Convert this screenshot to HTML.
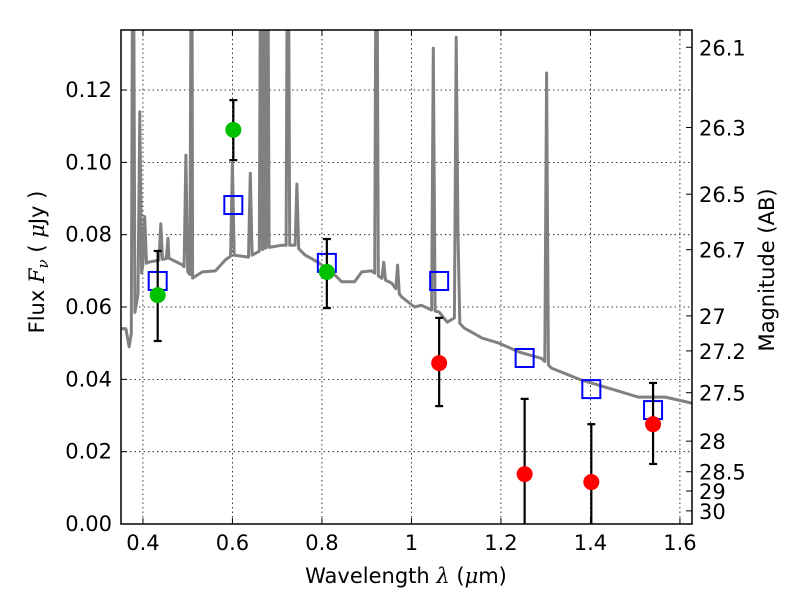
<!DOCTYPE html>
<html><head><meta charset="utf-8"><style>
body{margin:0;background:#fff}
svg{display:block;font-family:"DejaVu Sans","Liberation Sans",sans-serif}
</style></head><body>
<svg id="chart" width="800" height="600" viewBox="0 0 800 600" xmlns="http://www.w3.org/2000/svg">
<rect width="800" height="600" fill="#fff"/>
<g id="grid"></g>
<g id="plot"></g>
<g id="axes"></g>
<text x="406" y="583" font-size="21" text-anchor="middle">Wavelength  <tspan font-style="italic" font-family="DejaVu Serif,serif">λ</tspan> (<tspan font-style="italic" font-family="DejaVu Serif,serif">μ</tspan>m)</text>
<text transform="translate(44,262) rotate(-90)" font-size="21" text-anchor="middle">Flux  <tspan font-style="italic" font-family="DejaVu Serif,serif">F<tspan font-size="15" dy="4">ν</tspan></tspan><tspan dy="-4">  (  </tspan><tspan font-style="italic" font-family="DejaVu Serif,serif">μ</tspan>Jy )</text>
<text transform="translate(774,270) rotate(-90)" font-size="21" text-anchor="middle">Magnitude (AB)</text>
</svg>
<script>
const xTicks=[0.4,0.6,0.8,1.0,1.2,1.4,1.6];
const xTickLabels=["0.4","0.6","0.8","1","1.2","1.4","1.6"];
const yTicks=[0,0.02,0.04,0.06,0.08,0.10,0.12];
const yTickLabels=["0.00","0.02","0.04","0.06","0.08","0.10","0.12"];
const magTicks=[26.1,26.3,26.5,26.7,27,27.2,27.5,28,28.5,29,30];
const magTickLabels=["26.1","26.3","26.5","26.7","27","27.2","27.5","28","28.5","29","30"];
const contLam=[0.351,0.362,0.369,0.4,0.413,0.458,0.489,0.511,0.533,0.562,0.584,0.6,0.636,0.673,0.711,0.74,0.762,0.791,0.822,0.844,0.873,0.889,0.911,0.933,0.956,0.978,1.007,1.022,1.044,1.062,1.08,1.096,1.118,1.158,1.196,1.24,1.291,1.313,1.38,1.456,1.507,1.567,1.627];
const contFlux=[0.054,0.054,0.049,0.0716,0.0724,0.0735,0.0716,0.068,0.0697,0.070,0.073,0.0744,0.0738,0.0763,0.0771,0.0771,0.0744,0.0724,0.0697,0.067,0.067,0.0697,0.070,0.068,0.0666,0.0628,0.060,0.0605,0.0592,0.0586,0.0558,0.057,0.0542,0.0514,0.050,0.0476,0.0458,0.0431,0.0398,0.037,0.0351,0.0351,0.0334];
const lineLam=[0.378,0.393,0.404,0.44,0.456,0.496,0.509,0.6,0.64,0.664,0.671,0.678,0.724,0.744,0.922,0.938,0.969,1.049,1.100,1.104,1.302];
const linePeak=[0.2,0.114,0.085,0.083,0.079,0.102,0.2,0.0998,0.097,0.2,0.2,0.2,0.2,0.094,0.2,0.0724,0.0716,0.1316,0.1346,0.08,0.1247];
const photLam=[0.433,0.602,0.811];
const photFlux=[0.0633,0.109,0.0697];
const photErrHi=[0.0755,0.1172,0.0788];
const photErrLo=[0.0506,0.1006,0.0597];
const redLam=[1.062,1.253,1.402,1.54];
const redFlux=[0.0445,0.0138,0.0116,0.0276];
const redErrHi=[0.057,0.0346,0.0276,0.039];
const redErrLo=[0.0326,0,0,0.0166];
const modelLam=[0.433,0.602,0.811,1.062,1.253,1.402,1.54];
const modelFlux=[0.0672,0.0882,0.0722,0.0672,0.0459,0.0373,0.0315];

const L=121,R=692,T=30,B=524,xmin=0.351,xmax=1.627,ymax=0.1366;
const X=v=>L+(v-xmin)/(xmax-xmin)*(R-L);
const Y=v=>B-v/ymax*(B-T);
const magToFlux=m=>Math.pow(10,(23.9-m)/2.5);
const NS="http://www.w3.org/2000/svg";
function mk(tag,parent,attrs){const e=document.createElementNS(NS,tag);for(const k in attrs)e.setAttribute(k,attrs[k]);parent.appendChild(e);return e;}
const grid=document.getElementById('grid'),plot=document.getElementById('plot'),axes=document.getElementById('axes');

xTicks.forEach((t,i)=>{const x=X(t);
 let g=mk('line',grid,{x1:x,x2:x,y1:T,y2:B,stroke:'#000','stroke-width':0.8,'stroke-dasharray':'1.5,3'});
 
 mk('line',axes,{x1:x,x2:x,y1:B,y2:B-6,stroke:'#000'});
 mk('line',axes,{x1:x,x2:x,y1:T,y2:T+6,stroke:'#000'});
 let tx=mk('text',axes,{x:x,y:B+26,'font-size':21,'text-anchor':'middle'});tx.textContent=xTickLabels[i];
 
});
yTicks.forEach((t,i)=>{const y=Y(t);
 if(t>0){let g=mk('line',grid,{x1:L,x2:R,y1:y,y2:y,stroke:'#000','stroke-width':0.8,'stroke-dasharray':'1.5,3'});
 }
 mk('line',axes,{x1:L,x2:L+6,y1:y,y2:y,stroke:'#000'});
 let tx=mk('text',axes,{x:L-9,y:y+7,'font-size':21,'text-anchor':'end'});tx.textContent=yTickLabels[i];
 
});
magTicks.forEach((m,i)=>{const y=Y(magToFlux(m));
 mk('line',axes,{x1:R,x2:R-6,y1:y,y2:y,stroke:'#000'});
 let tx=mk('text',axes,{x:R+7,y:y+8,'font-size':21});tx.textContent=magTickLabels[i];
 
});

function cont(l){for(let i=0;i<contLam.length-1;i++){if(l<=contLam[i+1]){const f=(l-contLam[i])/(contLam[i+1]-contLam[i]);return contFlux[i]+f*(contFlux[i+1]-contFlux[i]);}}return contFlux[contFlux.length-1];}
let pts=[];let samp=contLam.slice();
lineLam.forEach(l=>{samp.push(l-0.004,l,l+0.004);});
samp.sort((a,b)=>a-b);
samp.forEach(l=>{let f=cont(l);lineLam.forEach((c,j)=>{if(Math.abs(l-c)<1e-6)f=Math.max(f,linePeak[j]);});pts.push(X(l).toFixed(1)+','+Y(f).toFixed(1));});
const cp=document.createElementNS(NS,'clipPath');cp.id='clip';mk('rect',cp,{x:L,y:T,width:R-L,height:B-T});plot.appendChild(cp);
let sp=mk('polyline',plot,{points:pts.join(' '),fill:'none',stroke:'#808080','stroke-width':3,'clip-path':'url(#clip)','stroke-linejoin':'round'});


function errbar(lam,hi,lo){const x=X(lam);const g=mk('g',plot,{stroke:'#000','stroke-width':2.2});
 
 mk('line',g,{x1:x,x2:x,y1:Y(hi),y2:Y(lo)});mk('line',g,{x1:x-4,x2:x+4,y1:Y(hi),y2:Y(hi)});
 if(lo>0)mk('line',g,{x1:x-4,x2:x+4,y1:Y(lo),y2:Y(lo)});}
modelLam.forEach((l,i)=>{let r=mk('rect',plot,{x:X(l)-9,y:Y(modelFlux[i])-9,width:18,height:18,fill:'none',stroke:'#0000ff','stroke-width':2});
 });
photLam.forEach((l,i)=>{errbar(l,photErrHi[i],photErrLo[i]);
 let c=mk('circle',plot,{cx:X(l),cy:Y(photFlux[i]),r:8,fill:'#00c000'});
 });
redLam.forEach((l,i)=>{errbar(l,redErrHi[i],redErrLo[i]);
 let c=mk('circle',plot,{cx:X(l),cy:Y(redFlux[i]),r:8,fill:'#ff0000'});
 });
let fr=mk('rect',axes,{x:L,y:T,width:R-L,height:B-T,fill:'none',stroke:'#000','stroke-width':1.5});

</script>
</body></html>
